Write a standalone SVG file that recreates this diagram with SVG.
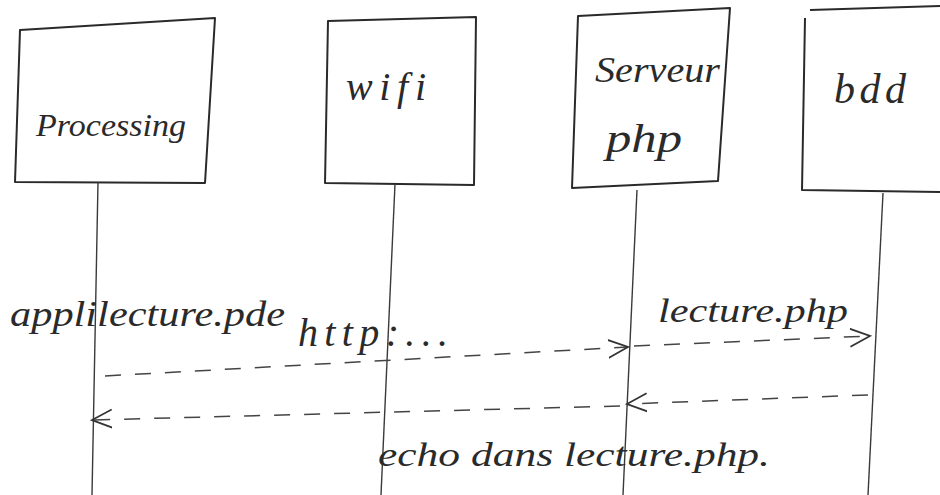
<svg xmlns="http://www.w3.org/2000/svg" width="940" height="495" viewBox="0 0 940 495">
<style>
.box{fill:none;stroke:#2a2a2a;stroke-width:2;stroke-linejoin:round}
.life{fill:none;stroke:#3a3a3a;stroke-width:1.4}
.msg{fill:none;stroke:#444;stroke-width:1.5;stroke-dasharray:16 14}
.t{font-family:"Liberation Serif",serif;font-style:italic;fill:#2a2a2a}
</style>
<defs>
<marker id="ah" markerUnits="userSpaceOnUse" markerWidth="30" markerHeight="30" viewBox="-20 -15 30 30" refX="0" refY="0" orient="auto">
<path d="M -22 -9 L 0 0 L -20 10" fill="none" stroke="#333" stroke-width="1.8"/>
</marker>
</defs>
<rect width="940" height="495" fill="#fff"/>
<g id="processing">
<path class="box" d="M20 30 L215 18 L205 183 L15 182 Z"/>
<line class="life" x1="98" y1="182" x2="92" y2="495"/>
<text class="t" x="36" y="136" font-size="32" textLength="150" lengthAdjust="spacingAndGlyphs">Processing</text>
</g>
<g id="wifi">
<path class="box" d="M328 21 L476 17 L474 185 L325 183 Z"/>
<line class="life" x1="395" y1="184" x2="381" y2="495"/>
<text class="t" x="346" y="100" font-size="40" textLength="80" lengthAdjust="spacing">wifi</text>
</g>
<g id="serveur">
<path class="box" d="M578 16 L730 8 L718 181 L572 188 Z"/>
<line class="life" x1="637" y1="190" x2="623" y2="495"/>
<text class="t" x="595" y="82" font-size="36" textLength="125" lengthAdjust="spacingAndGlyphs">Serveur</text>
<text class="t" x="606" y="152" font-size="40" textLength="76" lengthAdjust="spacingAndGlyphs">php</text>
</g>
<g id="bdd">
<path class="box" d="M940 6 L810 10 M805 18 L802 190 L940 192"/>
<line class="life" x1="883" y1="193" x2="868" y2="495"/>
<text class="t" x="834" y="103" font-size="42" textLength="72" lengthAdjust="spacing">bdd</text>
</g>
<g id="connectors">
<line class="msg" x1="105" y1="376" x2="628" y2="347" marker-end="url(#ah)"/>
<line class="msg" x1="634" y1="346" x2="870" y2="336" marker-end="url(#ah)"/>
<line class="msg" x1="868" y1="395" x2="627" y2="404" marker-end="url(#ah)"/>
<line class="msg" x1="620" y1="406" x2="92" y2="420" marker-end="url(#ah)"/>
</g>
<g id="labels">
<text class="t" x="10" y="326" font-size="36" textLength="275" lengthAdjust="spacingAndGlyphs">applilecture.pde</text>
<text class="t" x="298" y="346" font-size="40" textLength="150" lengthAdjust="spacing">http:...</text>
<text class="t" x="658" y="322" font-size="34" textLength="190" lengthAdjust="spacingAndGlyphs">lecture.php</text>
<text class="t" x="378" y="466" font-size="34" textLength="392" lengthAdjust="spacingAndGlyphs">echo dans lecture.php.</text>
</g>
</svg>
